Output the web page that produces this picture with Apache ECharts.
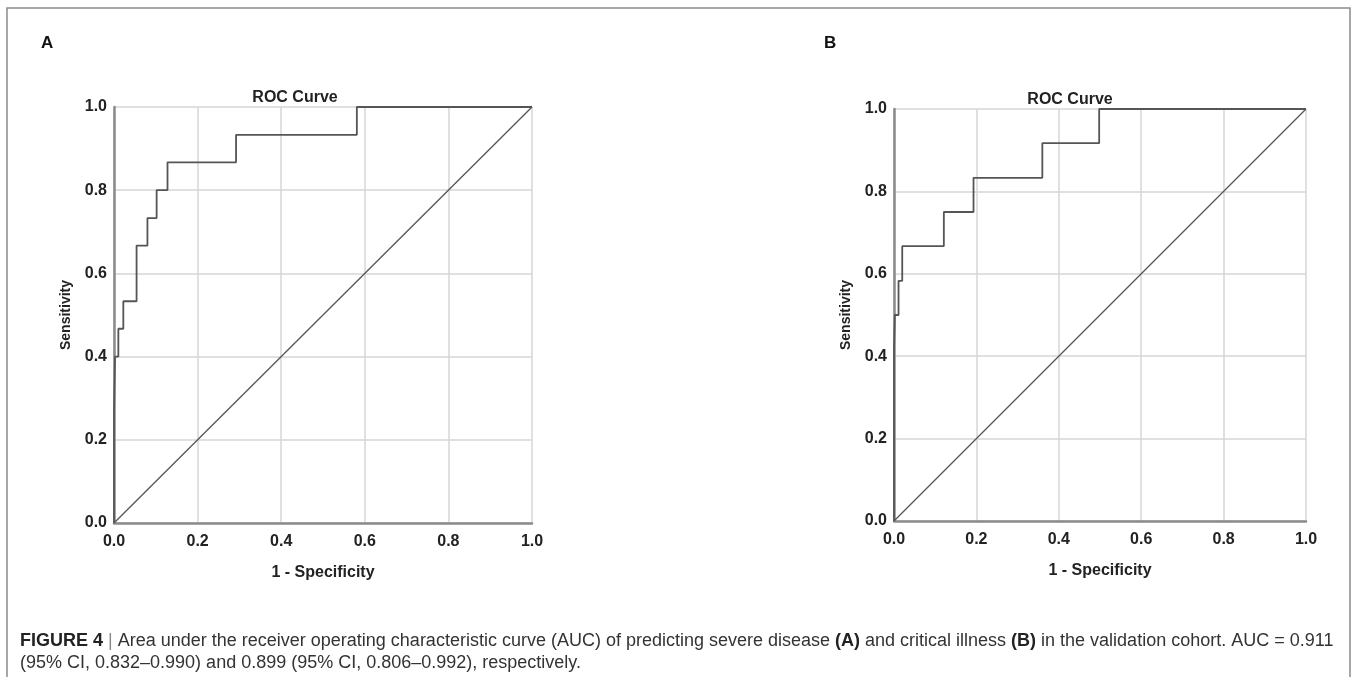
<!DOCTYPE html>
<html lang="en">
<head>
    <meta charset="UTF-8">
    <title>ROC Curve</title>
    <script src="https://cdn.jsdelivr.net/npm/echarts@6/dist/echarts.min.js"></script>
    <style>
        html, body {margin: 0; padding: 0; background: #fff;}
    </style>
</head>
<body>
<div id="main" style="width: 1357px;height:677px;"></div>
<script>
    // ROC points (1 - specificity, sensitivity)
    var fprA = [0, 0, 0.0024, 0.0104, 0.0223, 0.054, 0.080, 0.102, 0.128, 0.292, 0.581, 1];
    var tprA = [0, 0.267, 0.4, 0.467, 0.533, 0.667, 0.733, 0.8, 0.867, 0.933, 1, 1];
    var fprB = [0, 0, 0.002, 0.011, 0.020, 0.121, 0.193, 0.360, 0.498, 1];
    var tprB = [0, 0.417, 0.5, 0.583, 0.667, 0.75, 0.833, 0.917, 1, 1];
    var refLine = [0, 1];
    var panelLetters = ['A', 'B'];
    var chartTitle = 'ROC Curve';
    var xName = '1 - Specificity';
    var yName = 'Sensitivity';

    function pairs(xs, ys) {
        var out = [];
        for (var i = 0; i < xs.length; i++) {
            out.push([xs[i], ys[i]]);
        }
        return out;
    }

    var grids = [
        {left: 114, top: 107, width: 418, height: 416},
        {left: 894, top: 109, width: 412, height: 412}
    ];

    function xAxisFor(i) {
        return {
            type: 'value', gridIndex: i, min: 0, max: 1, interval: 0.2,
            name: xName, nameLocation: 'middle', nameGap: 42,
            nameTextStyle: {fontSize: 16, fontWeight: 'bold', color: '#222', fontFamily: 'Liberation Sans'},
            axisLine: {lineStyle: {color: '#8a8a8a', width: 2.5}},
            axisTick: {show: false},
            axisLabel: {
                fontSize: 16, fontWeight: 'bold', color: '#222', margin: 11,
                fontFamily: 'Liberation Sans',
                formatter: function (v) { return v.toFixed(1); }
            },
            splitLine: {lineStyle: {color: '#d6d6d6', width: 1.5}}
        };
    }

    function yAxisFor(i) {
        return {
            type: 'value', gridIndex: i, min: 0, max: 1, interval: 0.2,
            name: yName, nameLocation: 'middle', nameGap: 41, nameRotate: 90,
            nameTextStyle: {fontSize: 14, fontWeight: 'bold', color: '#222', fontFamily: 'Liberation Sans'},
            axisLine: {lineStyle: {color: '#8a8a8a', width: 2.5}},
            axisTick: {show: false},
            axisLabel: {
                fontSize: 16, fontWeight: 'bold', color: '#222', margin: 7,
                fontFamily: 'Liberation Sans',
                formatter: function (v) { return v.toFixed(1); }
            },
            splitLine: {lineStyle: {color: '#d6d6d6', width: 1.5}}
        };
    }

    var myChart = echarts.init(document.getElementById('main'));
    var option = {
        backgroundColor: '#fff',
        animation: false,
        title: [
            {text: chartTitle, left: 290, top: 93, textAlign: 'center', textVerticalAlign: 'middle',
                textStyle: {fontSize: 16, fontWeight: 'bold', color: '#222', fontFamily: 'Liberation Sans'}},
            {text: chartTitle, left: 1065, top: 95, textAlign: 'center', textVerticalAlign: 'middle',
                textStyle: {fontSize: 16, fontWeight: 'bold', color: '#222', fontFamily: 'Liberation Sans'}}
        ],
        grid: grids,
        xAxis: [xAxisFor(0), xAxisFor(1)],
        yAxis: [yAxisFor(0), yAxisFor(1)],
        series: [
            {
                type: 'line', xAxisIndex: 0, yAxisIndex: 0, step: 'end',
                data: pairs(fprA, tprA), showSymbol: false,
                lineStyle: {color: '#555', width: 1.8}
            },
            {
                type: 'line', xAxisIndex: 0, yAxisIndex: 0,
                data: pairs(refLine, refLine), showSymbol: false,
                lineStyle: {color: '#555', width: 1.3}
            },
            {
                type: 'line', xAxisIndex: 1, yAxisIndex: 1, step: 'end',
                data: pairs(fprB, tprB), showSymbol: false,
                lineStyle: {color: '#555', width: 1.8}
            },
            {
                type: 'line', xAxisIndex: 1, yAxisIndex: 1,
                data: pairs(refLine, refLine), showSymbol: false,
                lineStyle: {color: '#555', width: 1.3}
            }
        ],
        graphic: [
            {
                type: 'rect', shape: {x: 7, y: 8, width: 1343, height: 720},
                style: {fill: 'none', stroke: '#8a8a8a', lineWidth: 1.5}
            },
            {
                type: 'text', left: 41, top: 35,
                style: {text: panelLetters[0], font: 'bold 17px "Liberation Sans"', fill: '#111'}
            },
            {
                type: 'text', left: 824, top: 35,
                style: {text: panelLetters[1], font: 'bold 17px "Liberation Sans"', fill: '#111'}
            },
            {
                type: 'text', left: 20, top: 632,
                style: {
                    text: '{b|FIGURE 4} {p||} Area under the receiver operating characteristic curve (AUC) of predicting severe disease {b|(A)} and critical illness {b|(B)} in the validation cohort. AUC = 0.911',
                    font: '18px "Liberation Sans"',
                    fill: '#333',
                    rich: {
                        b: {font: 'bold 18px "Liberation Sans"', fill: '#222'},
                        p: {font: '18px "Liberation Sans"', fill: '#888'}
                    }
                }
            },
            {
                type: 'text', left: 20, top: 654,
                style: {
                    text: '(95% CI, 0.832–0.990) and 0.899 (95% CI, 0.806–0.992), respectively.',
                    font: '18px "Liberation Sans"',
                    fill: '#333'
                }
            }
        ]
    };
    myChart.setOption(option);
</script>
</body>
</html>
